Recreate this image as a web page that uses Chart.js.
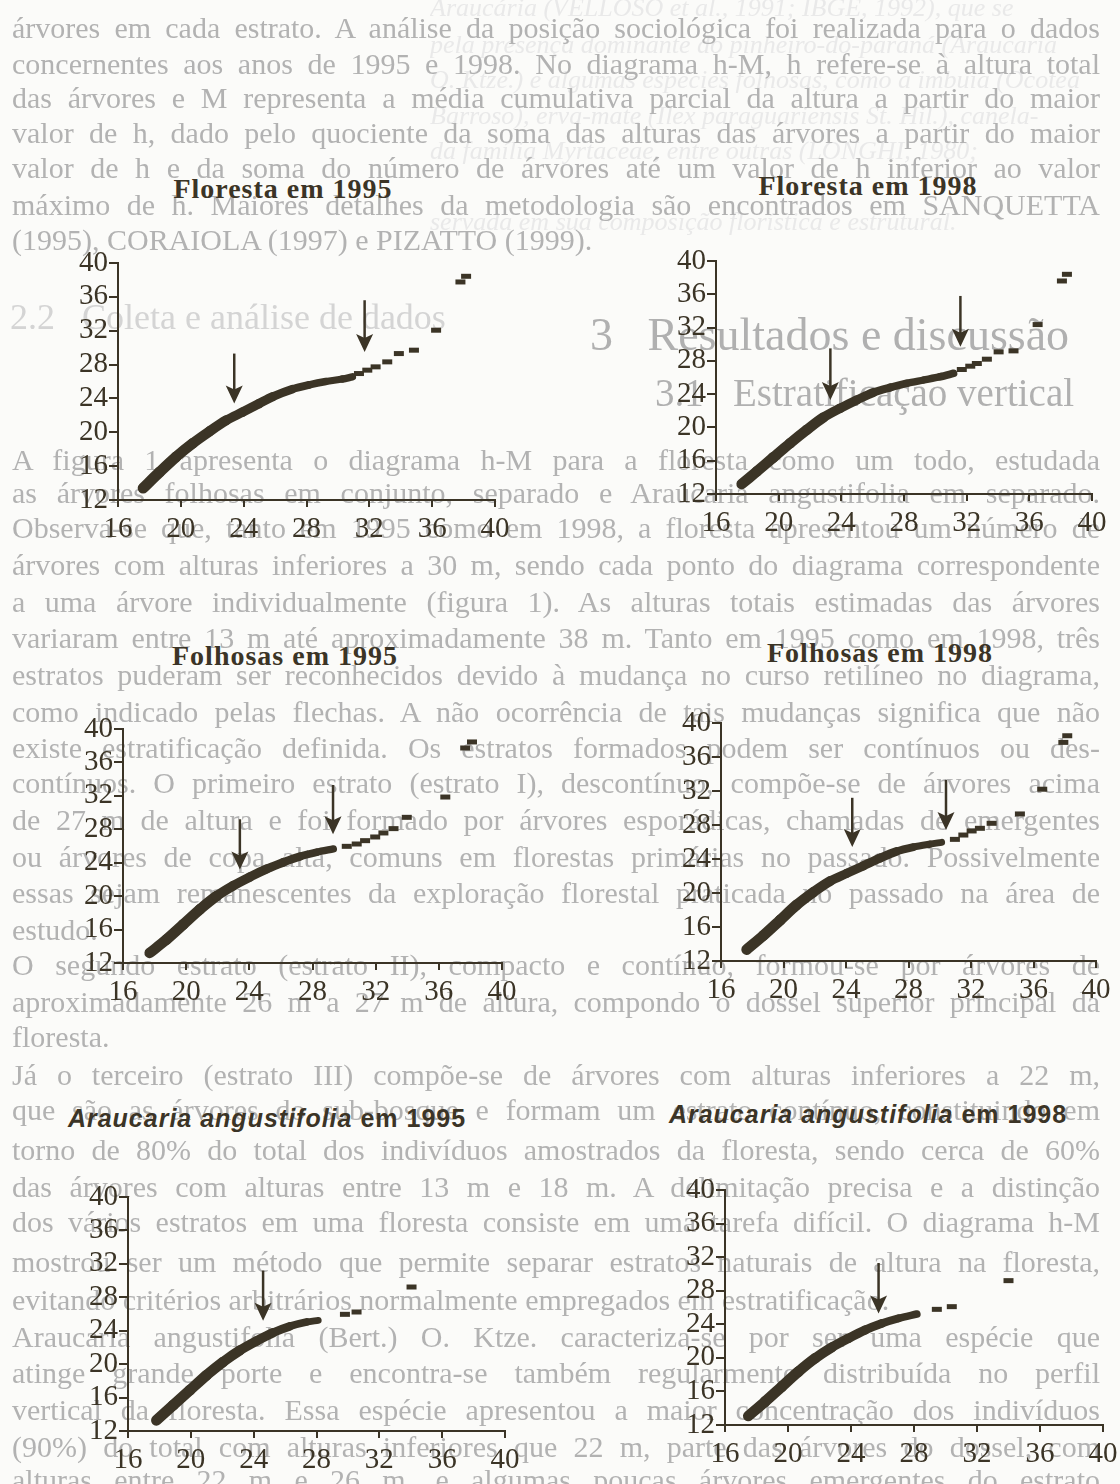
<!DOCTYPE html>
<html>
<head>
<meta charset="utf-8">
<script src="https://cdn.jsdelivr.net/npm/chart.js@4.4.0/dist/chart.umd.min.js"></script>
<style>
  html, body { margin: 0; padding: 0; }
  body { width: 1120px; height: 1484px; position: relative; overflow: hidden; background: #fbfbf9; }
  .ln { position: absolute; left: 12px; width: 1088px; height: 38px; line-height: 38px; overflow: hidden;
        font-family: 'Liberation Serif', 'Times New Roman', serif; font-size: 30px; color: #b2b2b2;
        text-align: justify; text-align-last: justify; filter: blur(0.5px); }
  .ln.end { text-align-last: left; }
  .ln.faint { color: #e9e9e9; font-style: italic; font-size: 26px; left: 430px; width: 670px;
              text-align: left; text-align-last: left; }
  .ttl { position: absolute; width: 500px; text-align: center; color: #3b3426; line-height: 28px; white-space: nowrap;
         font-family: 'Liberation Serif', 'Times New Roman', serif; font-weight: bold; font-size: 28px; letter-spacing: 1px; }
  .ttl.sans { font-family: 'Liberation Sans', Arial, sans-serif; font-size: 25px; line-height: 25px; }
</style>
</head>
<body>
<script>
var ink = '#3b3426';

// axis ticks
var hTicks = [16, 20, 24, 28, 32, 36, 40];
var mTicks = [12, 16, 20, 24, 28, 32, 36, 40];

// Floresta 1995
var floresta95H = [17.6, 18.65, 19.7, 20.76, 21.82, 22.88, 23.94, 24.99, 25.84, 27.11, 28.17, 29.23, 30.29, 30.92];
var floresta95M = [13.4, 15.3, 17.1, 18.7, 20.1, 21.4, 22.4, 23.4, 24.2, 25.1, 25.6, 26.0, 26.3, 26.55];
var floresta95SparseH = [31.34, 31.87, 32.4, 33.14, 33.88, 34.84, 36.25, 37.8, 38.16];
var floresta95SparseM = [26.94, 27.34, 27.73, 28.32, 29.3, 29.7, 32.06, 37.76, 38.43];
var floresta95Arrows = [[23.4, 29.3, 23.4], [31.7, 35.6, 29.5]];

// Floresta 1998
var floresta98H = [17.64, 18.6, 19.66, 20.73, 21.79, 22.86, 23.92, 24.99, 26.05, 27.12, 28.18, 29.25, 30.31, 31.16];
var floresta98M = [13.2, 14.7, 16.4, 18.1, 19.7, 21.2, 22.3, 23.3, 24.2, 24.8, 25.3, 25.7, 26.1, 26.5];
var floresta98SparseH = [31.69, 32.23, 32.65, 33.29, 34.04, 34.99, 36.53, 38.08, 38.4];
var floresta98SparseM = [26.96, 27.36, 27.68, 28.2, 29.08, 29.2, 32.36, 37.6, 38.4];
var floresta98Arrows = [[23.3, 29.5, 23.3], [31.6, 35.8, 29.7]];

// Folhosas 1995
var folhosas95H = [17.69, 18.75, 19.81, 20.86, 21.92, 22.98, 24.04, 25.09, 26.15, 27.21, 28.26, 29.32];
var folhosas95M = [13.2, 14.8, 16.6, 18.4, 20.0, 21.25, 22.3, 23.25, 24.05, 24.75, 25.25, 25.65];
var folhosas95SparseH = [30.17, 30.8, 31.33, 31.97, 32.49, 33.13, 33.97, 36.41, 37.67, 38.1];
var folhosas95SparseM = [25.96, 26.24, 26.64, 27.08, 27.56, 28.08, 29.43, 31.86, 37.73, 38.45];
var folhosas95Arrows = [[23.4, 29.2, 23.2], [29.3, 33.3, 27.4]];

// Folhosas 1998
var folhosas98H = [17.64, 18.71, 19.78, 20.84, 21.91, 22.98, 24.04, 25.11, 26.17, 27.24, 28.31, 29.37, 30.12];
var folhosas98M = [13.34, 15.0, 16.8, 18.6, 20.1, 21.4, 22.3, 23.2, 24.1, 24.9, 25.4, 25.75, 25.96];
var folhosas98SparseH = [30.97, 31.51, 32.04, 32.57, 33.32, 35.13, 36.56, 37.91, 38.16];
var folhosas98SparseM = [26.31, 26.82, 27.3, 27.61, 28.2, 29.3, 32.21, 37.72, 38.5];
var folhosas98Arrows = [[24.4, 31.2, 25.4], [30.4, 33.3, 27.4]];

// Araucaria angustifolia 1995
var araucaria95H = [17.81, 18.87, 19.93, 20.99, 22.05, 23.12, 24.18, 25.24, 26.3, 27.36, 28.11];
var araucaria95M = [13.28, 15.07, 16.87, 18.66, 20.26, 21.65, 22.77, 23.77, 24.53, 25.04, 25.24];
var araucaria95SparseH = [29.81, 30.55, 34.05];
var araucaria95SparseM = [25.96, 26.24, 29.23];
var araucaria95Arrows = [[24.6, 31.2, 25.2]];

// Araucaria angustifolia 1998
var araucaria98H = [17.48, 18.54, 19.6, 20.66, 21.72, 22.78, 23.84, 24.9, 25.96, 27.01, 28.18];
var araucaria98M = [13.07, 14.78, 16.57, 18.35, 19.94, 21.25, 22.33, 23.32, 24.11, 24.71, 25.22];
var araucaria98SparseH = [29.45, 30.4, 34.0];
var araucaria98SparseM = [25.78, 26.1, 29.2];
var araucaria98Arrows = [[25.75, 31.3, 25.3]];

// faded text of the printed page behind the figure
var pageLines = [
  [8, 'Araucária (VELLOSO et al., 1991; IBGE, 1992), que se caracteriza', 'faint'],
  [45, 'pela presença dominante do pinheiro-do-paraná (Araucaria angustifolia', 'faint'],
  [80, 'O. Ktze.) e algumas espécies folhosas, como a imbuia (Ocotea porosa', 'faint'],
  [116, 'Barroso), erva-mate (Ilex paraguariensis St. Hil.), canela-guaicá', 'faint'],
  [151, 'da família Myrtaceae, entre outras (LONGHI, 1980; RODERJAN, 1994).', 'faint'],
  [222, 'servada em sua composição florística e estrutural.', 'faint'],
  [28, 'árvores em cada estrato. A análise da posição sociológica foi realizada para o dados', ''],
  [64, 'concernentes aos anos de 1995 e 1998. No diagrama h-M, h refere-se à altura total', ''],
  [98, 'das árvores e M representa a média cumulativa parcial da altura a partir do maior', ''],
  [133, 'valor de h, dado pelo quociente da soma das alturas das árvores a partir do maior', ''],
  [168, 'valor de h e da soma do número de árvores até um valor de h inferior ao valor', ''],
  [205, 'máximo de h. Maiores detalhes da metodologia são encontrados em SANQUETTA', ''],
  [240, '(1995), CORAIOLA (1997) e PIZATTO (1999).', 'end'],
  [460, '      A figura 1 apresenta o diagrama h-M para a floresta como um todo, estudada', ''],
  [493, 'as árvores folhosas em conjunto, separado e Araucaria angustifolia em separado.', ''],
  [528, 'Observa-se que, tanto em 1995 como em 1998, a floresta apresentou um número de', ''],
  [565, 'árvores com alturas inferiores a 30 m, sendo cada ponto do diagrama correspondente', ''],
  [602, 'a uma árvore individualmente (figura 1). As alturas totais estimadas das árvores', ''],
  [638, 'variaram entre 13 m até aproximadamente 38 m. Tanto em 1995 como em 1998, três', ''],
  [675, 'estratos puderam ser reconhecidos devido à mudança no curso retilíneo no diagrama,', ''],
  [712, 'como indicado pelas flechas. A não ocorrência de tais mudanças significa que não', ''],
  [748, 'existe estratificação definida. Os estratos formados podem ser contínuos ou des-', ''],
  [783, 'contínuos. O primeiro estrato (estrato I), descontínuo, compõe-se de árvores acima', ''],
  [820, 'de 27 m de altura e foi formado por árvores esporádicas, chamadas de emergentes', ''],
  [857, 'ou árvores de copa alta, comuns em florestas primárias no passado. Possivelmente', ''],
  [893, 'essas sejam remanescentes da exploração florestal praticada no passado na área de', ''],
  [930, 'estudo.', 'end'],
  [965, '      O segundo estrato (estrato II), compacto e contínuo, formou-se por árvores de', ''],
  [1002, 'aproximadamente 26 m a 27 m de altura, compondo o dossel superior principal da', ''],
  [1037, 'floresta.', 'end'],
  [1075, '      Já o terceiro (estrato III) compõe-se de árvores com alturas inferiores a 22 m,', ''],
  [1110, 'que são as árvores do sub-bosque e formam um estrato contínuo, constituindo em', ''],
  [1150, 'torno de 80% do total dos indivíduos amostrados da floresta, sendo cerca de 60%', ''],
  [1187, 'das árvores com alturas entre 13 m e 18 m. A delimitação precisa e a distinção', ''],
  [1222, 'dos vários estratos em uma floresta consiste em uma tarefa difícil. O diagrama h-M', ''],
  [1262, 'mostrou ser um método que permite separar estratos naturais de altura na floresta,', ''],
  [1300, 'evitando critérios arbitrários normalmente empregados em estratificação.', 'end'],
  [1337, '      Araucaria angustifolia (Bert.) O. Ktze. caracteriza-se por ser uma espécie que', ''],
  [1373, 'atinge grande porte e encontra-se também regularmente distribuída no perfil', ''],
  [1410, 'vertical da floresta. Essa espécie apresentou a maior concentração dos indivíduos', ''],
  [1447, '(90%) do total com alturas inferiores que 22 m, parte das árvores do dossel, com', ''],
  [1480, 'alturas entre 22 m e 26 m, e algumas poucas árvores emergentes do estrato', '']
];

pageLines.forEach(function (l) {
  var d = document.createElement('div');
  d.className = 'ln ' + l[2];
  d.style.top = (l[0] - 19) + 'px';
  d.textContent = l[1];
  document.body.appendChild(d);
});

var heads = [
  { text: '2.2   Coleta e análise de dados', x: 10, y: 318, size: 36, color: '#d4d4d4' },
  { text: '3   Resultados e discussão', x: 590, y: 335, size: 46, color: '#b0b0b0' },
  { text: '3.1   Estratificação vertical', x: 655, y: 393, size: 39, color: '#b0b0b0' }
];
heads.forEach(function (h) {
  var d = document.createElement('div');
  d.style.cssText = 'position:absolute;white-space:pre;font-family:"Liberation Serif",serif;filter:blur(0.5px);' +
    'color:' + h.color + ';left:' + h.x + 'px;top:' + (h.y - h.size * 0.6) + 'px;font-size:' + h.size + 'px;line-height:' + (h.size * 1.2) + 'px';
  d.textContent = h.text;
  document.body.appendChild(d);
});

var panels = [
  { title: 'Floresta em 1995', tx: 283, ty: 175, left: 118, right: 495, top: 263, bottom: 500,
    h: floresta95H, m: floresta95M, sh: floresta95SparseH, sm: floresta95SparseM, arrows: floresta95Arrows },
  { title: 'Floresta em 1998', tx: 868, ty: 172, left: 716, right: 1092, top: 261, bottom: 494,
    h: floresta98H, m: floresta98M, sh: floresta98SparseH, sm: floresta98SparseM, arrows: floresta98Arrows },
  { title: 'Folhosas em 1995', tx: 285, ty: 642, left: 123, right: 502, top: 729, bottom: 963,
    h: folhosas95H, m: folhosas95M, sh: folhosas95SparseH, sm: folhosas95SparseM, arrows: folhosas95Arrows },
  { title: 'Folhosas em 1998', tx: 880, ty: 639, left: 721, right: 1096, top: 723, bottom: 961,
    h: folhosas98H, m: folhosas98M, sh: folhosas98SparseH, sm: folhosas98SparseM, arrows: folhosas98Arrows },
  { title: 'em 1995', species: 'Araucaria angustifolia', tx: 267, ty: 1106, left: 128, right: 505, top: 1197, bottom: 1431,
    h: araucaria95H, m: araucaria95M, sh: araucaria95SparseH, sm: araucaria95SparseM, arrows: araucaria95Arrows },
  { title: 'em 1998', species: 'Araucaria angustifolia', tx: 868, ty: 1102, left: 725, right: 1103, top: 1190, bottom: 1425,
    h: araucaria98H, m: araucaria98M, sh: araucaria98SparseH, sm: araucaria98SparseM, arrows: araucaria98Arrows }
];

function pts(xs, ys) {
  return xs.map(function (x, i) { return { x: x, y: ys[i] }; });
}

// arrows marking the strata breaks
var arrowPlugin = {
  id: 'arrows',
  afterDatasetsDraw: function (chart, args, opts) {
    var xs = chart.scales.x, ys = chart.scales.y, ctx = chart.ctx;
    (opts.list || []).forEach(function (a) {
      var x = xs.getPixelForValue(a[0]);
      var y0 = ys.getPixelForValue(a[1]);
      var y1 = ys.getPixelForValue(a[2]);
      ctx.save();
      ctx.strokeStyle = ink;
      ctx.fillStyle = ink;
      ctx.lineWidth = 2.5;
      ctx.beginPath();
      ctx.moveTo(x, y0);
      ctx.lineTo(x, y1 - 12);
      ctx.stroke();
      ctx.beginPath();
      ctx.moveTo(x - 8.5, y1 - 18);
      ctx.lineTo(x, y1 - 14);
      ctx.lineTo(x + 8.5, y1 - 18);
      ctx.lineTo(x, y1);
      ctx.closePath();
      ctx.fill();
      ctx.restore();
    });
  }
};

// thickness of the band of overlapping dashes depends on the slope
function bandWidth(ctx) {
  var dx = Math.abs(ctx.p1.x - ctx.p0.x) || 1;
  var s = Math.abs(ctx.p1.y - ctx.p0.y) / dx;
  return (5.5 + 10 * s) / Math.sqrt(1 + s * s);
}

var tickFont = { family: "'Liberation Serif', 'Times New Roman', serif", size: 29, lineHeight: 1 };
var PADL = 72, PADR = 28, PADT = 22, PADB = 50;

panels.forEach(function (p) {
  var t = document.createElement('div');
  t.className = 'ttl' + (p.species ? ' sans' : '');
  t.style.left = (p.tx - 250) + 'px';
  t.style.top = p.ty + 'px';
  if (p.species) {
    t.innerHTML = '<i>' + p.species + '</i> ' + p.title;
  } else {
    t.textContent = p.title;
  }
  document.body.appendChild(t);

  var c = document.createElement('canvas');
  var w = p.right - p.left + PADL + PADR;
  var h = p.bottom - p.top + PADT + PADB;
  c.width = w;
  c.height = h;
  c.style.cssText = 'position:absolute;left:' + (p.left - PADL) + 'px;top:' + (p.top - PADT) + 'px;width:' + w + 'px;height:' + h + 'px';
  document.body.appendChild(c);

  new Chart(c, {
    type: 'scatter',
    data: {
      datasets: [{
        data: pts(p.h, p.m),
        showLine: true,
        borderColor: ink,
        backgroundColor: ink,
        borderWidth: 8,
        borderCapStyle: 'round',
        borderJoinStyle: 'round',
        tension: 0.3,
        pointRadius: 0,
        segment: { borderWidth: bandWidth }
      }, {
        data: pts(p.sh, p.sm),
        showLine: false,
        pointStyle: 'line',
        pointRadius: 5,
        pointBorderWidth: 5,
        borderColor: ink,
        backgroundColor: ink
      }]
    },
    options: {
      responsive: false,
      animation: false,
      devicePixelRatio: 1,
      layout: { padding: { left: 0, right: PADR, top: PADT, bottom: 0 } },
      plugins: {
        legend: { display: false },
        tooltip: { enabled: false },
        arrows: { list: p.arrows }
      },
      scales: {
        x: {
          type: 'linear',
          min: 16,
          max: 40,
          afterBuildTicks: function (axis) { axis.ticks = hTicks.map(function (v) { return { value: v }; }); },
          afterFit: function (s) { s.height = PADB; },
          ticks: { color: ink, font: tickFont, padding: 8, autoSkip: false, maxRotation: 0, minRotation: 0 },
          grid: { drawOnChartArea: false, drawTicks: true, tickLength: 7, color: ink, lineWidth: 2 },
          border: { display: true, color: ink, width: 2 }
        },
        y: {
          type: 'linear',
          min: 12,
          max: 40,
          afterBuildTicks: function (axis) { axis.ticks = mTicks.map(function (v) { return { value: v }; }); },
          afterFit: function (s) { s.width = PADL; },
          ticks: { color: ink, font: tickFont, padding: 1, autoSkip: false },
          grid: { drawOnChartArea: false, drawTicks: true, tickLength: 9, color: ink, lineWidth: 2 },
          border: { display: true, color: ink, width: 2 }
        }
      }
    },
    plugins: [arrowPlugin]
  });
});
</script>
</body>
</html>
